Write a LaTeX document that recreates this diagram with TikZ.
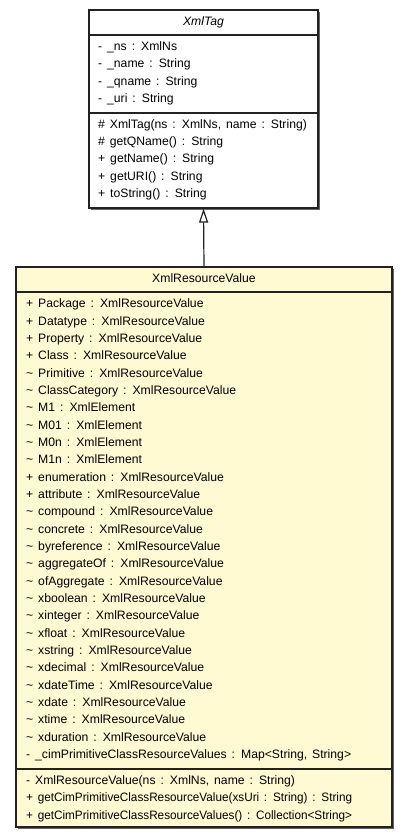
\documentclass[tikz,border=0pt]{standalone}
\usepackage{fontspec}
\setmainfont{Liberation Sans}[WordSpace=1.45]
\usetikzlibrary{arrows.meta,shadows}
\definecolor{boxfill}{HTML}{FFFAD2}
\definecolor{edge}{HTML}{222222}
\definecolor{shade}{HTML}{666666}
\tikzset{
  umlbox/.style={draw=edge, line width=1.2pt, inner sep=0pt,
    drop shadow={shadow xshift=1.6pt, shadow yshift=-1.6pt, fill=shade, opacity=1}},
  divider/.style={draw=edge, line width=1.2pt},
  row/.style={anchor=west, inner sep=0pt, text height=9pt, text depth=2.5pt,
    font=\fontsize{12.2}{14}\selectfont},
  narrowrow/.style={row, xscale=0.962, transform shape},
  titletext/.style={inner sep=0pt, text height=9pt, text depth=2.5pt,
    font=\fontsize{12.2}{14}\selectfont},
  genarrow/.style={draw=edge, line width=1.2pt, -{Triangle[open, length=14pt, width=9pt, line width=1.2pt]}}
}
\begin{document}
\begin{tikzpicture}[x=1pt,y=-1pt]
\useasboundingbox (0,0) rectangle (408,839);
% XmlTag box
\node[umlbox, fill=white, minimum width=229pt, minimum height=198pt] (tag) at (203.5,109) {};
\draw[divider] (89,35) -- (318,35);
\draw[divider] (89,113) -- (318,113);
\node[titletext] (tagtitle) at (203.5,22.5) {\itshape XmlTag};
\node[row] (ta1) at (98,47.5) {- \_ns : XmlNs};
\node[row] (ta2) at (98,64.5) {- \_name : String};
\node[row] (ta3) at (98,82) {- \_qname : String};
\node[row] (ta4) at (98,99.5) {- \_uri : String};
\node[row] (tm1) at (98,125) {\# XmlTag(ns : XmlNs, name : String)};
\node[row] (tm2) at (98,142.5) {\# getQName() : String};
\node[row] (tm3) at (98,159.5) {+ getName() : String};
\node[row] (tm4) at (98,177) {+ getURI() : String};
\node[row] (tm5) at (98,194.5) {+ toString() : String};
% XmlResourceValue box
\node[umlbox, fill=boxfill, minimum width=376pt, minimum height=560pt] (rv) at (204,547) {};
\draw[divider] (16,292) -- (392,292);
\draw[divider] (16,769) -- (392,769);
\node[titletext] (rvtitle) at (204,279.5) {XmlResourceValue};
\foreach \txt [count=\i from 0] in {
  + Package : XmlResourceValue,
  + Datatype : XmlResourceValue,
  + Property : XmlResourceValue,
  + Class : XmlResourceValue,
  \textasciitilde{} Primitive : XmlResourceValue,
  \textasciitilde{} ClassCategory : XmlResourceValue,
  \textasciitilde{} M1 : XmlElement,
  \textasciitilde{} M01 : XmlElement,
  \textasciitilde{} M0n : XmlElement,
  \textasciitilde{} M1n : XmlElement,
  + enumeration : XmlResourceValue,
  + attribute : XmlResourceValue,
  \textasciitilde{} compound : XmlResourceValue,
  \textasciitilde{} concrete : XmlResourceValue,
  \textasciitilde{} byreference : XmlResourceValue,
  \textasciitilde{} aggregateOf : XmlResourceValue,
  \textasciitilde{} ofAggregate : XmlResourceValue,
  \textasciitilde{} xboolean : XmlResourceValue,
  \textasciitilde{} xinteger : XmlResourceValue,
  \textasciitilde{} xfloat : XmlResourceValue,
  \textasciitilde{} xstring : XmlResourceValue,
  \textasciitilde{} xdecimal : XmlResourceValue,
  \textasciitilde{} xdateTime : XmlResourceValue,
  \textasciitilde{} xdate : XmlResourceValue,
  \textasciitilde{} xtime : XmlResourceValue,
  \textasciitilde{} xduration : XmlResourceValue,
  - \_cimPrimitiveClassResourceValues : Map<String{,} String>}
  { \node[row] (ra\i) at (26,{304.5+17.33*\i}) {\txt}; }
\node[row] (rm1) at (26,781) {- XmlResourceValue(ns : XmlNs, name : String)};
\node[narrowrow] (rm2) at (26,798.5) {+ getCimPrimitiveClassResourceValue(xsUri : String) : String};
\node[narrowrow] (rm3) at (26,816) {+ getCimPrimitiveClassResourceValues() : Collection<String>};
% generalization
\draw[genarrow] (rv.north) -- (tag.south);
\end{tikzpicture}
\end{document}
